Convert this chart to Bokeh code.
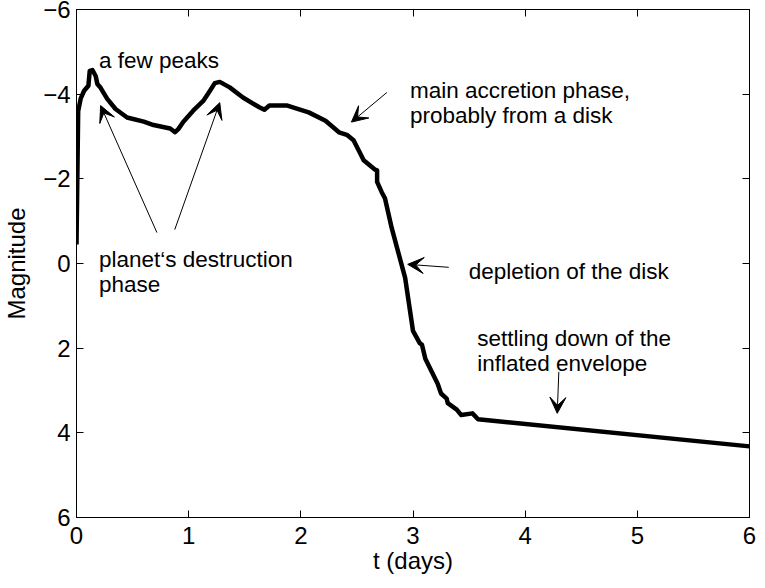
from bokeh.plotting import figure
from bokeh.models import Range1d, LinearAxis, FixedTicker, Arrow, VeeHead, Label
from bokeh.embed import file_html
from bokeh.resources import INLINE

# ---- data ----
t_days = [0, 0.015, 0.038, 0.068, 0.106, 0.118, 0.142, 0.171, 0.186, 0.215,
          0.274, 0.348, 0.451, 0.6, 0.687, 0.835, 0.879, 0.909, 0.953, 1.04,
          1.13, 1.19, 1.233, 1.277, 1.366, 1.484, 1.63, 1.675, 1.72, 1.88,
          2.07, 2.22, 2.34, 2.41, 2.47, 2.53, 2.56, 2.66, 2.68, 2.68, 2.72,
          2.75, 2.81, 2.93, 3.0, 3.06, 3.08, 3.11, 3.22, 3.25, 3.30, 3.31,
          3.39, 3.43, 3.53, 3.58, 6.0]
magnitude = [-0.45, -3.6, -3.9, -4.08, -4.2, -4.55, -4.57, -4.43, -4.24, -4.15,
             -3.89, -3.65, -3.45, -3.35, -3.27, -3.19, -3.10, -3.18, -3.35, -3.61,
             -3.84, -4.08, -4.26, -4.29, -4.16, -3.92, -3.69, -3.63, -3.73, -3.73,
             -3.57, -3.37, -3.10, -3.04, -2.91, -2.60, -2.44, -2.22, -2.20, -1.93, -1.69,
             -1.54, -0.84, 0.34, 1.59, 1.88, 1.92, 2.25, 2.84, 3.07, 3.19, 3.30,
             3.45, 3.58, 3.54, 3.68, 4.32]

x_ticks = [0, 1, 2, 3, 4, 5, 6]
y_ticks = [-6, -4, -2, 0, 2, 4, 6]
y_tick_labels = ["\u22126", "\u22124", "\u22122", "0", "2", "4", "6"]

FONT = "Liberation Sans"

p = figure(width=757, height=580, output_backend="svg", toolbar_location=None,
           x_range=Range1d(0, 6), y_range=Range1d(6, -6),
           min_border_left=71, min_border_right=8, min_border_top=9,
           min_border_bottom=63)
p.grid.visible = False
p.outline_line_color = "black"
p.outline_line_width = 1
p.background_fill_color = "white"
p.border_fill_color = "white"

p.line(t_days, magnitude, line_color="black", line_width=4.5, line_join="round")

p.xaxis.ticker = FixedTicker(ticks=x_ticks)
p.yaxis.ticker = FixedTicker(ticks=y_ticks)
for ax in [p.xaxis[0], p.yaxis[0]]:
    ax.major_tick_in = 7
    ax.major_tick_out = 0
    ax.minor_tick_line_color = None
    ax.axis_line_color = "black"
    ax.major_tick_line_color = "black"
    ax.major_label_text_font = FONT
    ax.major_label_text_font_size = "24px"
    ax.major_label_text_color = "black"
    ax.axis_label_text_font = FONT
    ax.axis_label_text_font_size = "24px"
    ax.axis_label_text_font_style = "normal"
    ax.axis_label_text_color = "black"
p.xaxis.major_label_standoff = 9
p.xaxis.axis_label = "t (days)"
p.xaxis.axis_label_standoff = 0
p.yaxis.major_label_standoff = 6
p.yaxis.axis_label = "Magnitude"
p.yaxis.axis_label_standoff = 10
p.yaxis.major_label_overrides = {v: s for v, s in zip(y_ticks, y_tick_labels)}

top = LinearAxis(ticker=FixedTicker(ticks=x_ticks), major_tick_in=7, major_tick_out=0,
                 minor_tick_line_color=None, major_label_text_font_size="1px",
                 major_label_text_color=None, major_label_standoff=0,
                 axis_line_color="black", major_tick_line_color="black")
right = LinearAxis(ticker=FixedTicker(ticks=y_ticks), major_tick_in=7, major_tick_out=0,
                   minor_tick_line_color=None, major_label_text_font_size="1px",
                   major_label_text_color=None, major_label_standoff=0,
                   axis_line_color="black", major_tick_line_color="black")
p.add_layout(top, "above")
p.add_layout(right, "right")

# ---- annotations ----
def txt(x, y, s):
    p.add_layout(Label(x=x, y=y, text=s, text_font=FONT, text_font_size="22.5px",
                       text_color="black", text_baseline="alphabetic", text_align="left"))

txt(0.2, -4.80, "a few peaks")
txt(2.973, -4.08, "main accretion phase,")
txt(2.973, -3.49, "probably from a disk")
txt(0.2, -0.09, "planet\u2018s destruction")
txt(0.2, 0.49, "phase")
txt(3.496, 0.18, "depletion of the disk")
txt(3.572, 1.77, "settling down of the")
txt(3.572, 2.37, "inflated envelope")

def arrow(x0, y0, x1, y1):
    p.add_layout(Arrow(x_start=x0, y_start=y0, x_end=x1, y_end=y1,
                       line_color="black", line_width=1,
                       end=VeeHead(size=16, fill_color="black", line_color="black",
                                   line_width=1)))

arrow(0.717, -0.73, 0.215, -3.73)
arrow(0.876, -0.80, 1.277, -3.80)
arrow(2.767, -4.04, 2.451, -3.34)
arrow(3.319, 0.09, 2.953, 0.02)
arrow(4.30, 2.56, 4.286, 3.54)

open("out.html", "w").write(file_html(p, INLINE))
